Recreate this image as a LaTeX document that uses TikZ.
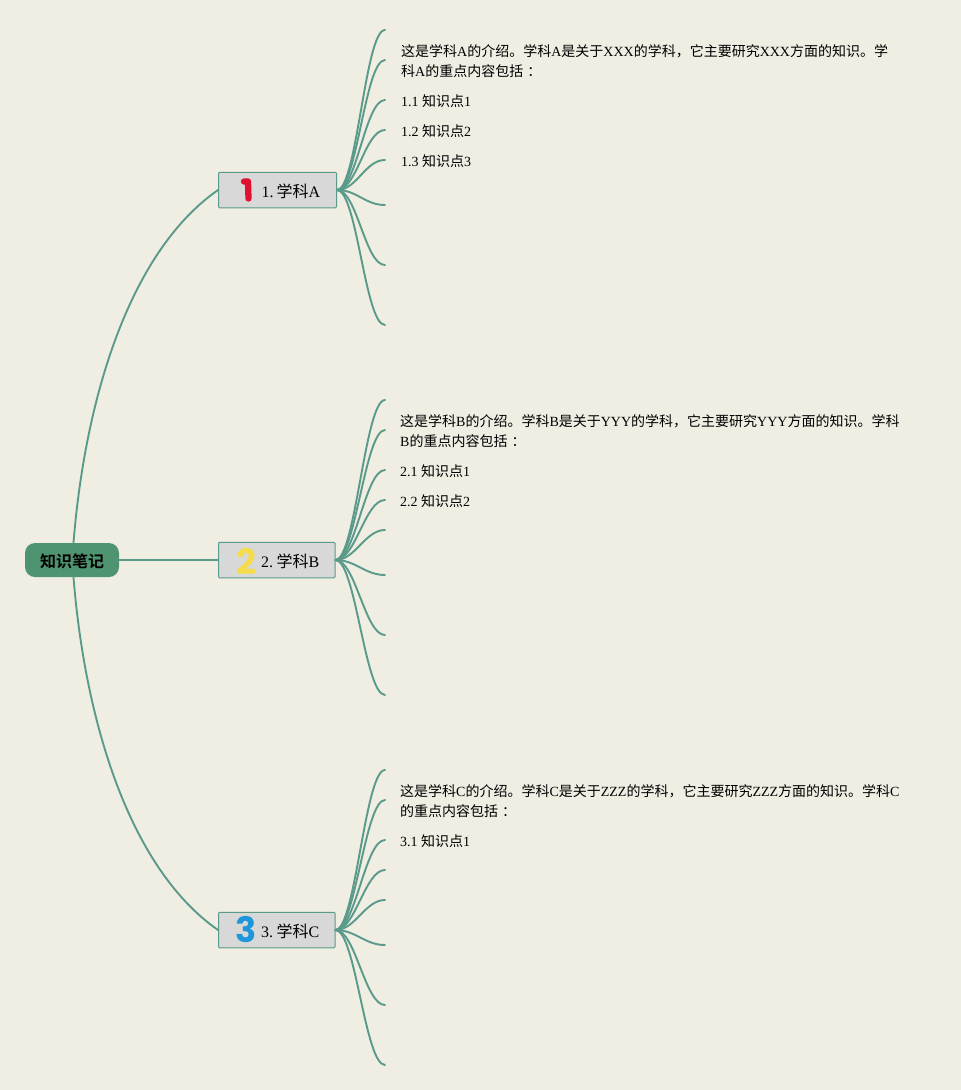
\documentclass[tikz,border=0pt]{standalone}
\usepackage{fontspec}
\usetikzlibrary{calc}
\setmainfont{Liberation Serif}
\newfontfamily\cjk{Noto Sans CJK SC}
\newfontfamily\cjkbold{Noto Sans CJK SC Bold}
\newfontfamily\digitfont{Poppins}[BoldFont={Poppins Bold}]
\newcommand{\Z}[1]{{\cjk #1}}
\definecolor{bgc}{HTML}{F0EDE3}
\definecolor{linec}{HTML}{5A9A8A}
\definecolor{rootc}{HTML}{4F9470}
\definecolor{subc}{HTML}{D8D8D8}
\definecolor{onec}{HTML}{E0102F}
\definecolor{twoc}{HTML}{F5DC4A}
\definecolor{threec}{HTML}{1E96DC}
\tikzset{
  conn/.style={draw=linec,line width=1.9pt,line cap=round},
  rootnode/.style={fill=rootc,rounded corners=10pt,minimum width=94pt,minimum height=34pt,inner sep=0pt},
  subnode/.style={fill=subc,draw=linec,line width=1pt,rounded corners=1pt,minimum height=35.5pt,inner sep=0pt},
  subtext/.style={font=\fontsize{16}{20}\selectfont,inner sep=0pt,anchor=west},
  leaf/.style={font=\fontsize{14}{20}\selectfont,inner sep=0pt,anchor=west,align=left},
  digit/.style={font=\digitfont\bfseries\fontsize{35}{35}\selectfont,inner sep=0pt},
}
\begin{document}
\begin{tikzpicture}[x=1pt,y=-1pt]
\useasboundingbox (0,0) rectangle (961,1090);
\fill[bgc] (0,0) rectangle (961,1090);

\node[rootnode] (root) at (72,560) {};
\node[subnode,minimum width=118pt] (sA) at (277.5,190) {};
\node[subnode,minimum width=116.5pt] (sB) at (276.75,560) {};
\node[subnode,minimum width=116.5pt] (sC) at (276.75,930) {};
\node[inner sep=0pt,font=\cjkbold\fontsize{16}{20}\selectfont] (rootlabel) at (72,561) {知识笔记};

\draw[conn] ($(root.north)+(1.5,0)$) .. controls (84,410) and (125,255) .. (sA.west);
\draw[conn] (root.east) -- (sB.west);
\draw[conn] ($(root.south)+(1.5,0)$) .. controls (84,710) and (125,865) .. (sC.west);

\node[subtext] (tA) at (261.5,191) {1.\hspace{3pt}\Z{学科}A};
\node[subtext] (tB) at (261,561) {2.\hspace{3.5pt}\Z{学科}B};
\node[subtext] (tC) at (261,931) {3.\hspace{3.5pt}\Z{学科}C};

\coordinate (iA) at (247.5,190);
\draw[onec,line width=6.3pt,line cap=round,line join=round] ($(iA)+(-3.5,-8.5)$) -- ($(iA)+(0.5,-8.5)$) -- ($(iA)+(1,8.5)$);
\node[digit,text=twoc] (iB) at (246,561) {2};
\node[digit,text=threec] (iC) at (246,930) {3};

\foreach \s/\y in {A/190,B/560,C/930}{
  \foreach \n/\d in {1/-160,2/-130,3/-90,4/-60,5/-30,6/15,7/75,8/135}{
    \coordinate (e\s\n) at (385,\y+\d);
    \draw[conn] (s\s.east) .. controls ($(s\s.east)+(20,0)$) and ($(e\s\n)+(-20,0)$) .. (e\s\n);
  }
}

\node[leaf] (a0) at (401,61) {\Z{这是学科}A\Z{的介绍。学科}A\Z{是关于}XXX\Z{的学科，它主要研究}XXX\Z{方面的知识。学}\\\Z{科}A\Z{的重点内容包括}\hspace{4pt}\Z{：}};
\node[leaf] (a1) at (401,101) {1.1 \Z{知识点}1};
\node[leaf] (a2) at (401,131) {1.2 \Z{知识点}2};
\node[leaf] (a3) at (401,161) {1.3 \Z{知识点}3};

\node[leaf] (b0) at (400,431) {\Z{这是学科}B\Z{的介绍。学科}B\Z{是关于}YYY\Z{的学科，它主要研究}YYY\Z{方面的知识。学科}\\B\Z{的重点内容包括}\hspace{4pt}\Z{：}};
\node[leaf] (b1) at (400,471) {2.1 \Z{知识点}1};
\node[leaf] (b2) at (400,501) {2.2 \Z{知识点}2};

\node[leaf] (c0) at (400,801) {\Z{这是学科}C\Z{的介绍。学科}C\Z{是关于}ZZZ\Z{的学科，它主要研究}ZZZ\Z{方面的知识。学科}C\\\Z{的重点内容包括}\hspace{4pt}\Z{：}};
\node[leaf] (c1) at (400,841) {3.1 \Z{知识点}1};
\end{tikzpicture}
\end{document}
